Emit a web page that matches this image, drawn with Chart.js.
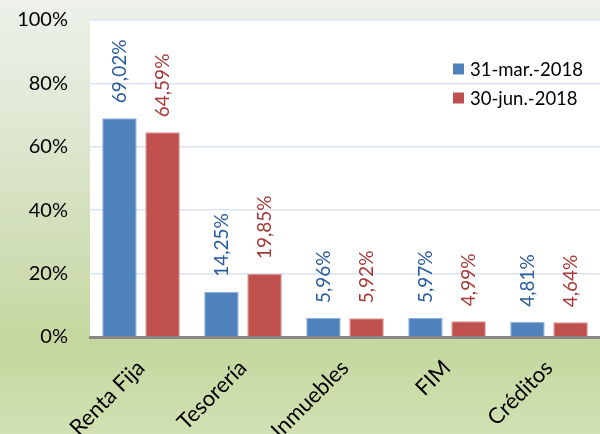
<!DOCTYPE html>
<html>
<head>
<meta charset="utf-8">
<script src="https://cdn.jsdelivr.net/npm/chart.js@4/dist/chart.umd.min.js"></script>
<style>
html,body{margin:0;padding:0;background:#fff;}
#wrap{width:600px;height:434px;position:relative;}
</style>
</head>
<body>
<div id="wrap"><canvas id="c" width="600" height="434"></canvas></div>
<script>
const categories = ["Renta Fija", "Tesorería", "Inmuebles", "FIM", "Créditos"];
const seriesNames = ["31-mar.-2018", "30-jun.-2018"];
const marValues = [69.02, 14.25, 5.96, 5.97, 4.81];
const junValues = [64.59, 19.85, 5.92, 4.99, 4.64];
const yTicks = [0, 20, 40, 60, 80, 100];

const FONT = "Lato, 'Noto Sans', sans-serif";
const barColors = ["#4f81bd", "#c0504d"];
const barEdges = ["#8fb0dc", "#dc9290"];
const labelColors = ["#2a5b9b", "#a53b38"];

function fmt(v){ return v.toFixed(2).replace('.', ',') + '%'; }

const bgPlugin = {
  id: 'bg',
  beforeDraw(chart){
    const {ctx, width, height, chartArea} = chart;
    ctx.save();
    const g = ctx.createLinearGradient(0, 0, 0, height);
    g.addColorStop(0, '#edf1ea');
    g.addColorStop(0.25, '#e1e9d6');
    g.addColorStop(0.5, '#d3e0bd');
    g.addColorStop(0.8, '#c4d79e');
    g.addColorStop(1, '#d1e1b4');
    ctx.fillStyle = g;
    ctx.fillRect(0, 0, width, height);
    ctx.fillStyle = '#ffffff';
    ctx.fillRect(chartArea.left, chartArea.top, chartArea.right - chartArea.left, chartArea.bottom - chartArea.top);
    ctx.restore();
  }
};

const labelPlugin = {
  id: 'vlabels',
  afterDatasetsDraw(chart){
    const ctx = chart.ctx;
    ctx.save();
    ctx.font = "19px " + FONT;
    ctx.textAlign = 'left';
    ctx.textBaseline = 'middle';
    chart.data.datasets.forEach((ds, i) => {
      const meta = chart.getDatasetMeta(i);
      meta.data.forEach((bar, j) => {
        ctx.save();
        ctx.translate(bar.x, bar.y - 15);
        ctx.rotate(-Math.PI / 2);
        ctx.fillStyle = labelColors[i];
        ctx.fillText(fmt(ds.data[j]), 0, 0);
        ctx.restore();
      });
    });
    ctx.restore();
  }
};

const legendPlugin = {
  id: 'customLegend',
  afterDraw(chart){
    const ctx = chart.ctx;
    const ca = chart.chartArea;
    ctx.save();
    ctx.font = "18.5px " + FONT;
    ctx.textBaseline = 'middle';
    ctx.textAlign = 'left';
    const x0 = ca.right - 147;
    const ys = [ca.top + 49, ca.top + 78];
    seriesNames.forEach((n, i) => {
      ctx.fillStyle = barColors[i];
      ctx.fillRect(x0, ys[i] - 5.5, 11, 11);
      ctx.fillStyle = '#000';
      ctx.fillText(n, x0 + 17, ys[i] + 1);
    });
    ctx.restore();
  }
};

new Chart(document.getElementById('c'), {
  type: 'bar',
  data: {
    labels: categories,
    datasets: [
      { label: seriesNames[0], data: marValues, backgroundColor: barColors[0], borderColor: barEdges[0], borderWidth: 1, borderSkipped: 'start' },
      { label: seriesNames[1], data: junValues, backgroundColor: barColors[1], borderColor: barEdges[1], borderWidth: 1, borderSkipped: 'start' }
    ]
  },
  options: {
    responsive: false,
    animation: false,
    devicePixelRatio: 1,
    layout: { autoPadding: false, padding: { top: 20, right: 0, bottom: 0, left: 0 } },
    datasets: { bar: { categoryPercentage: 0.845, barPercentage: 0.8 } },
    plugins: { legend: { display: false }, tooltip: { enabled: false } },
    scales: {
      x: {
        grid: { display: false, drawTicks: false },
        border: { display: true, color: '#878787', width: 3 },
        ticks: { color: '#000', font: { family: FONT, size: 22 }, maxRotation: 45, minRotation: 45, padding: 18 },
        afterFit(s){ s.height = 97; }
      },
      y: {
        min: 0, max: 100,
        afterBuildTicks(s){ s.ticks = yTicks.map(v => ({ value: v })); },
        grid: { color: '#d9e3f1', lineWidth: 1.5, drawTicks: false },
        border: { display: false },
        ticks: { color: '#000', font: { family: FONT, size: 20 }, padding: 22, callback: v => v + '%' },
        afterFit(s){ s.width = 90; s.paddingTop = 0; s.paddingBottom = 0; }
      }
    }
  },
  plugins: [bgPlugin, labelPlugin, legendPlugin]
});
</script>
</body>
</html>
